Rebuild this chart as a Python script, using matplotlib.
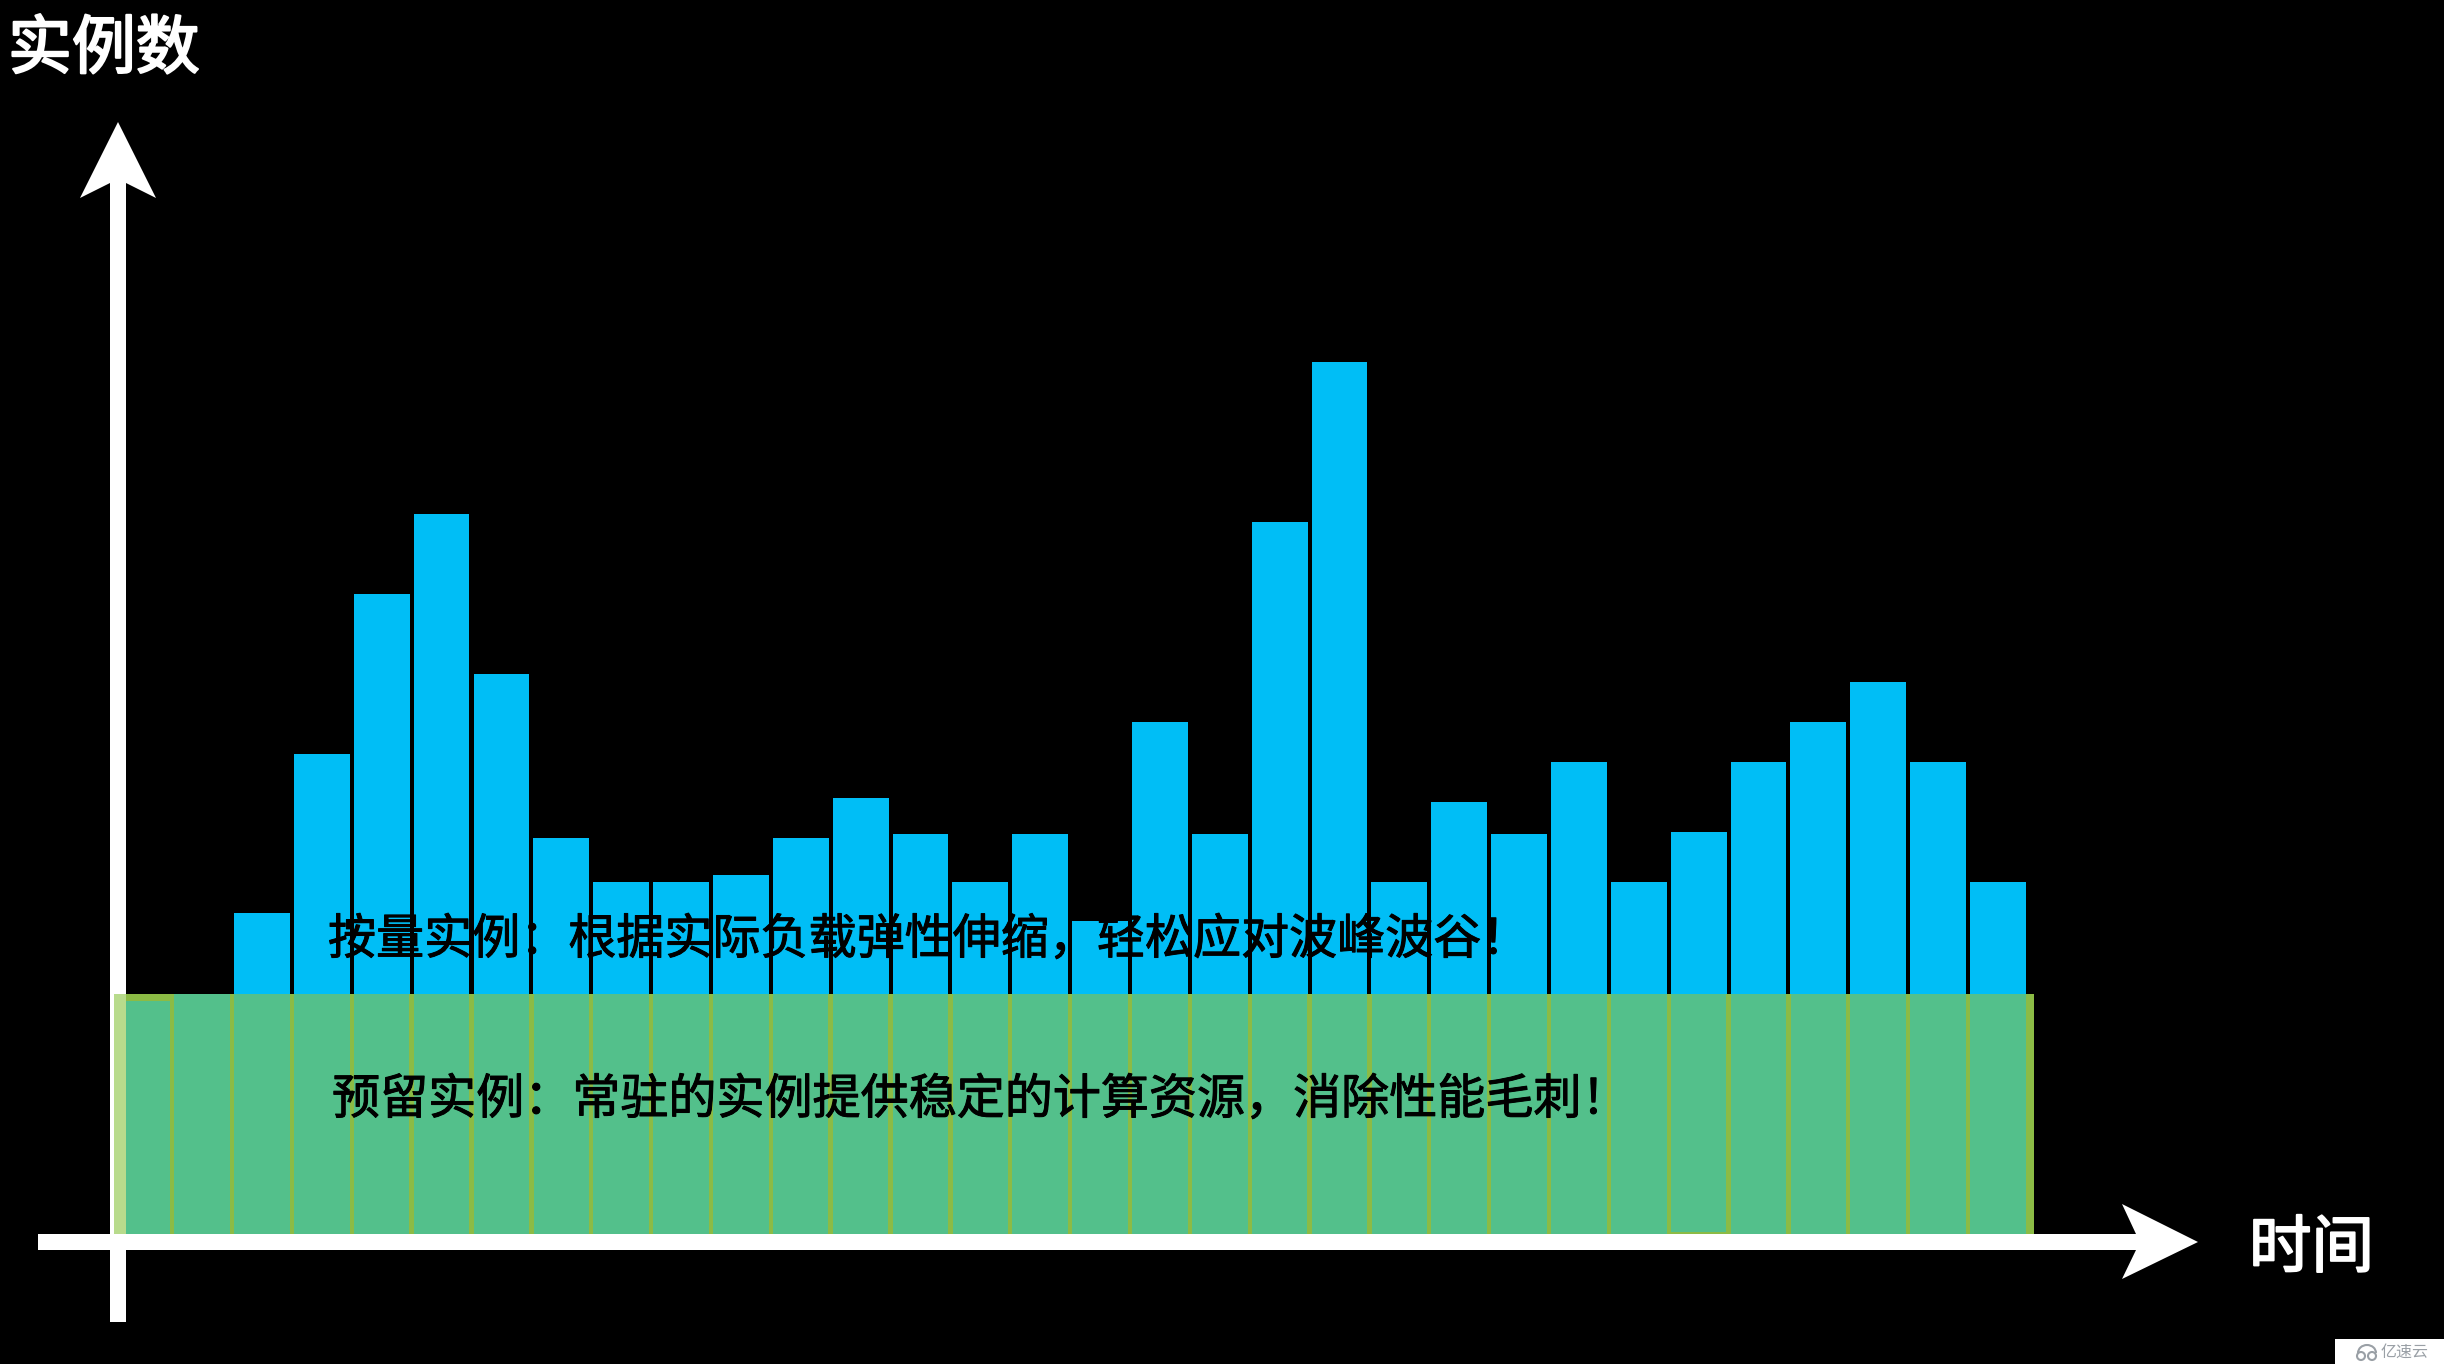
import matplotlib
matplotlib.use("Agg")
import matplotlib.pyplot as plt
import matplotlib.patheffects as pe
from matplotlib.patches import Polygon, Rectangle, Arc, Circle
from matplotlib.transforms import Affine2D

plt.rcParams['font.family'] = ['Noto Sans CJK SC', 'DejaVu Sans']

# 数据：按时间的实例总数（顶部读数）
slots = list(range(-2, 30))
reserved = [233] + [240] * 31
reserved_base = [0] * 26 + [2] + [0] * 5
on_demand_slots = list(range(30))
totals = [321, 480, 640, 720, 560, 396, 352, 352, 359, 396,
          436, 400, 352, 400, 313, 512, 400, 712, 872, 352,
          432, 400, 472, 352, 402, 472, 512, 552, 472, 352]
reserved_level = 240

label_y = "实例数"
label_x = "时间"
text_on_demand = "按量实例：根据实际负载弹性伸缩，轻松应对波峰波谷！"
text_reserved = "预留实例：常驻的实例提供稳定的计算资源，消除性能毛刺！"

W, H = 2444, 1364
BLUE = "#00BEF6"
GREEN = "#53C08B"
LIME = "#8CBB45"

fig = plt.figure(figsize=(W / 100, H / 100), dpi=100, facecolor="black")
ax = fig.add_axes([0, 0, 1, 1])
pitch = 59.86
ax.set_xlim(-262 / pitch, (W - 262) / pitch)
ax.set_ylim(-130, 1234)
ax.axis("off")

# 像素坐标，原点在左上
px = Affine2D().scale(1 / W, -1 / H).translate(0, 1) + fig.transFigure


def poly(points, color, z):
    fig.add_artist(Polygon(points, closed=True, facecolor=color, edgecolor="none",
                           transform=px, zorder=z))


def label(x, y, s, color, size, stroke):
    t = fig.text(x, y, s, color=color, fontsize=size, va="center", ha="left", transform=px, zorder=7)
    t.set_path_effects([pe.withStroke(linewidth=stroke, foreground=color)])


# 按量实例
heights = [t - reserved_level for t in totals]
ax.bar(on_demand_slots, heights, bottom=reserved_level, width=55.8 / pitch, color=BLUE, linewidth=0)

# 预留实例：底色 + 每个时间片
ax.add_patch(Rectangle((-148 / pitch, 0), (2034 - 114) / pitch, reserved_level, facecolor=LIME, linewidth=0, zorder=2))
ax.bar(slots, [r - b for r, b in zip(reserved, reserved_base)], bottom=reserved_base,
       width=55.5 / pitch, color=GREEN, linewidth=0, zorder=3)

# 坐标轴箭头
poly([(110, 1322), (110, 183), (80, 198), (118, 122), (156, 198), (126, 183), (126, 1322)], "white", 5)
poly([(38, 1234), (2136, 1234), (2122, 1204), (2198, 1242), (2122, 1279), (2136, 1250), (38, 1250)], "white", 5)
poly([(114, 994), (126, 994), (126, 1234), (114, 1234)], "#B8DB8C", 6)

label(8, 50, label_y, "white", 46, 1.6)
label(2249, 1249, label_x, "white", 45, 1.4)
label(328, 940, text_on_demand, "black", 34.6, 0.7)
label(332, 1100, text_reserved, "black", 34.6, 0.7)

# 水印
fig.add_artist(Rectangle((2335, 1339), 109, 25, facecolor="white", edgecolor="none", transform=px, zorder=8))
for cx in (2361, 2372):
    fig.add_artist(Circle((cx, 1356), 4, facecolor="none", edgecolor="#9AA0A6", linewidth=1.5, transform=px, zorder=9))
fig.add_artist(Arc((2367, 1353), 18, 16, theta1=180, theta2=360, edgecolor="#9AA0A6", linewidth=1.5, transform=px, zorder=9))
fig.text(2381, 1352, "亿速云", color="#9AA0A6", fontsize=11.5, va="center", ha="left", transform=px, zorder=9)

fig.savefig("out.png", dpi=100, facecolor="black")
